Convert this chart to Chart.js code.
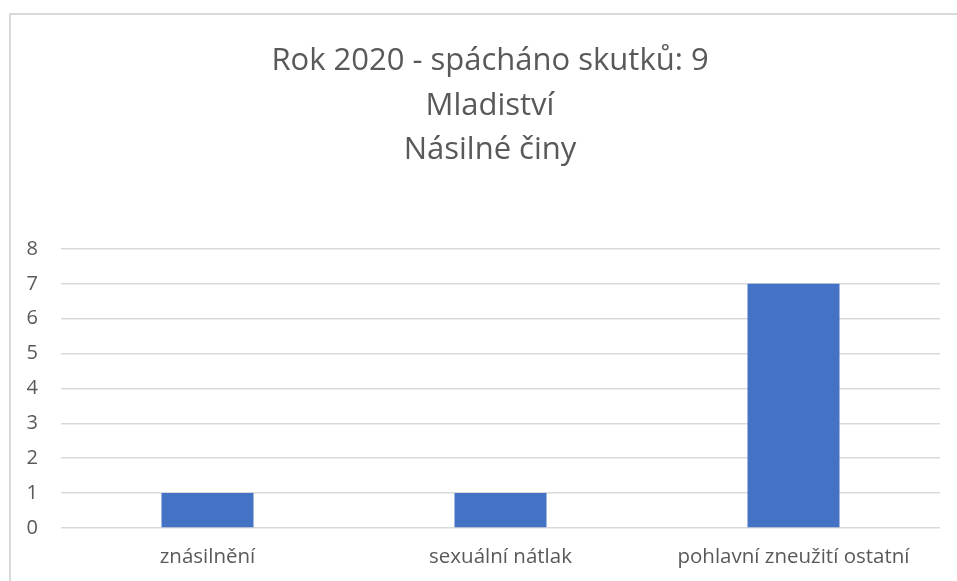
<!DOCTYPE html>
<html>
<head>
<meta charset="utf-8">
<script src="https://cdn.jsdelivr.net/npm/chart.js@4.4.1/dist/chart.umd.min.js"></script>
<style>
    html, body { margin: 0; padding: 0; background: #ffffff; overflow: hidden; }
    #frame {
        position: absolute; left: 9px; top: 13px; width: 960px; height: 580px;
        border: 2px solid #d9d9d9; box-sizing: border-box;
    }
    #wrap { position: absolute; left: 0; top: 0; width: 957px; height: 581px; }
</style>
</head>
<body>
<div id="frame"></div>
<div id="wrap"><canvas id="chart"></canvas></div>
<script>
// chart data
const categories = ['znásilnění', 'sexuální nátlak', 'pohlavní zneužití ostatní'];
const counts = [1, 1, 7];
const titleLines = ['Rok 2020 - spácháno skutků: 9', 'Mladiství', 'Násilné činy'];
const yMin = 0;
const yMax = 8;

const textColor = '#595959';
const fontFamily = "'Open Sans', 'Noto Sans', sans-serif";

// y labels sit left of the padded scale box, so widen its clip area after layout
const widenYAxis = {
    id: 'widenYAxis',
    afterLayout(chart) {
        chart.scales.y.left = 0;
    }
};

document.addEventListener('DOMContentLoaded', () => {
    const ctx = document.getElementById('chart');

    new Chart(ctx, {
        type: 'bar',
        data: {
            labels: categories,
            datasets: [{
                data: counts,
                backgroundColor: '#4472c4',
                borderWidth: 0,
                categoryPercentage: 1,
                barPercentage: 0.314
            }]
        },
        options: {
            responsive: true,
            maintainAspectRatio: false,
            animation: false,
            // left padding shifts the title centre to match the original frame
            layout: { padding: { left: 40, right: 17, top: 0, bottom: 11 } },
            plugins: {
                legend: { display: false },
                tooltip: { enabled: false },
                title: {
                    display: true,
                    text: titleLines,
                    color: textColor,
                    font: { family: fontFamily, size: 31, weight: 'normal', lineHeight: 1.44 },
                    padding: { top: 39, bottom: 76 }
                }
            },
            scales: {
                x: {
                    grid: { display: false, drawTicks: false },
                    border: { display: false },
                    ticks: {
                        color: textColor,
                        font: { family: fontFamily, size: 20.5 },
                        padding: 17,
                        maxRotation: 0
                    },
                    afterFit: (scale) => { scale.height = 42; }
                },
                y: {
                    min: yMin,
                    max: yMax,
                    grid: { color: '#d9d9d9', lineWidth: 1.5, drawTicks: false },
                    border: { display: false },
                    ticks: {
                        stepSize: 1,
                        color: textColor,
                        font: { family: fontFamily, size: 20 },
                        padding: 23
                    },
                    afterFit: (scale) => { scale.width = 21; }
                }
            }
        },
        plugins: [widenYAxis]
    });
});
</script>
</body>
</html>
